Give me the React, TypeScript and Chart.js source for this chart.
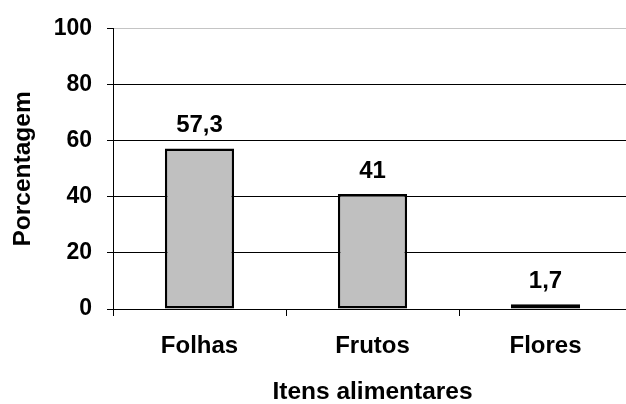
import React, { useEffect, useRef } from "react";
import { Chart, registerables } from "chart.js";

Chart.register(...registerables);

const categories = ["Folhas", "Frutos", "Flores"];
const values = [57.3, 41, 1.7];
const yTicks = [0, 20, 40, 60, 80, 100];
const xTitle = "Itens alimentares";
const yTitle = "Porcentagem";

const FONT = '"Liberation Sans", Arial, sans-serif';

const valueLabels = {
  id: "valueLabels",
  afterDatasetsDraw(chart: any) {
    const { ctx } = chart;
    const meta = chart.getDatasetMeta(0);
    ctx.save();
    ctx.font = `bold 24px ${FONT}`;
    ctx.fillStyle = "#000";
    ctx.textAlign = "center";
    ctx.textBaseline = "alphabetic";
    meta.data.forEach((bar: any, i: number) => {
      const txt = String(values[i]).replace(".", ",");
      ctx.fillText(txt, bar.x, bar.y - 16);
    });
    ctx.restore();
  },
};

export default function App() {
  const ref = useRef<HTMLCanvasElement | null>(null);
  useEffect(() => {
    if (!ref.current) return;
    const chart = new Chart(ref.current, {
      type: "bar",
      data: {
        labels: categories,
        datasets: [
          {
            data: values,
            backgroundColor: "#c0c0c0",
            borderColor: "#000",
            borderWidth: 2.5,
            borderSkipped: false,
            barPercentage: 0.4,
            categoryPercentage: 1,
          },
        ],
      },
      options: {
        animation: false,
        responsive: true,
        maintainAspectRatio: false,
        layout: { padding: { top: 22, right: 8, bottom: 0, left: 0 } },
        plugins: { legend: { display: false }, tooltip: { enabled: false } },
        scales: {
          x: {
            offset: true,
            grid: {
              display: true,
              drawOnChartArea: false,
              drawTicks: true,
              tickLength: 7,
              color: "#000",
              offset: true,
            },
            border: { display: true, color: "#000", width: 1 },
            ticks: {
              color: "#000",
              padding: 18,
              font: { family: FONT, size: 24, weight: "bold", lineHeight: 1 },
            },
            title: {
              display: true,
              text: xTitle,
              color: "#000",
              padding: { top: 0, bottom: 0 },
              font: { family: FONT, size: 24.5, weight: "bold", lineHeight: 1 },
            },
            afterFit(scale: any) {
              scale.height = 95;
            },
          },
          y: {
            min: 0,
            max: 100,
            afterBuildTicks(scale: any) {
              scale.ticks = yTicks.map((v) => ({ value: v }));
            },
            grid: {
              color: (c: any) => (c.tick && c.tick.value === 100 ? "#c4c4c4" : "#000"),
              tickColor: "#000",
              tickLength: 6,
              lineWidth: 1,
            },
            border: { display: true, color: "#000", width: 1 },
            ticks: {
              color: "#000",
              padding: 15,
              font: { family: FONT, size: 23, weight: "bold" },
            },
            title: {
              display: true,
              text: yTitle,
              color: "#000",
              padding: { top: 10.75, bottom: 0 },
              font: { family: FONT, size: 24.5, weight: "bold", lineHeight: 1 },
            },
            afterFit(scale: any) {
              scale.width = 113;
            },
          },
        },
      },
      plugins: [valueLabels],
    });
    return () => chart.destroy();
  }, []);
  return (
    <div style={{ position: "fixed", left: 0, top: 0, width: 640, height: 404, background: "#fff" }}>
      <canvas ref={ref} style={{ display: "block" }} />
    </div>
  );
}
